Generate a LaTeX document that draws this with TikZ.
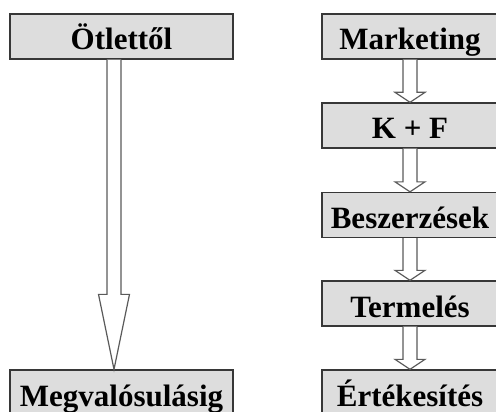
\documentclass[tikz,border=0pt]{standalone}
\usepackage{fontspec}
\setmainfont{Liberation Serif}
\usetikzlibrary{calc}

\definecolor{boxfill}{RGB}{221,221,221}
\definecolor{boxline}{RGB}{55,55,55}
\definecolor{arrowgray}{RGB}{90,90,90}

% hollow block arrow: from node #1 down to node #2,
% x offset #3 from the node centre, head length #4, half head width #5
\newcommand{\hollowarrow}[5]{%
  \draw[arrowline]
    ($(#1.south)+(#3-7,0)$) -- ($(#2.north)+(#3-7,-#4)$)
    -- ($(#2.north)+(#3-#5,-#4)$) -- ($(#2.north)+(#3,0)$)
    -- ($(#2.north)+(#3+#5,-#4)$) -- ($(#2.north)+(#3+7,-#4)$)
    -- ($(#1.south)+(#3+7,0)$);}

\begin{document}
\begin{tikzpicture}[x=1pt,y=-1pt,
  box/.style={draw=boxline, line width=1.3pt, fill=boxfill, inner sep=0pt,
    minimum height=45pt, text height=27pt, text depth=0pt,
    font=\fontsize{31}{36}\selectfont\bfseries},
  leftbox/.style={box, minimum width=223pt},
  rightbox/.style={box, minimum width=176pt},
  arrowline/.style={draw=arrowgray, line width=1.2pt, fill=white, line join=miter}]
\useasboundingbox (0,0) rectangle (496,412);
\clip (0,0) rectangle (496,412);

% left column
\node[leftbox] (idea) at (121.5,36.5) {Ötlettől};
\node[leftbox] (real) at (121.5,392.5) {Megvalósulásig};

% right column
\node[rightbox] (mkt)  at (410,36.5)  {Marketing};
\node[rightbox] (rnd)  at (410,125.5) {K + F};
\node[rightbox] (buy)  at (410,215)   {Beszerzések};
\node[rightbox] (prod) at (410,303.5) {Termelés};
\node[rightbox] (sale) at (410,392.5) {Értékesítés};

% arrows
\hollowarrow{idea}{real}{-7.5}{75}{15.5}
\hollowarrow{mkt}{rnd}{0}{10}{15}
\hollowarrow{rnd}{buy}{0}{10}{15}
\hollowarrow{buy}{prod}{0}{10}{15}
\hollowarrow{prod}{sale}{0}{10}{15}
\end{tikzpicture}
\end{document}
